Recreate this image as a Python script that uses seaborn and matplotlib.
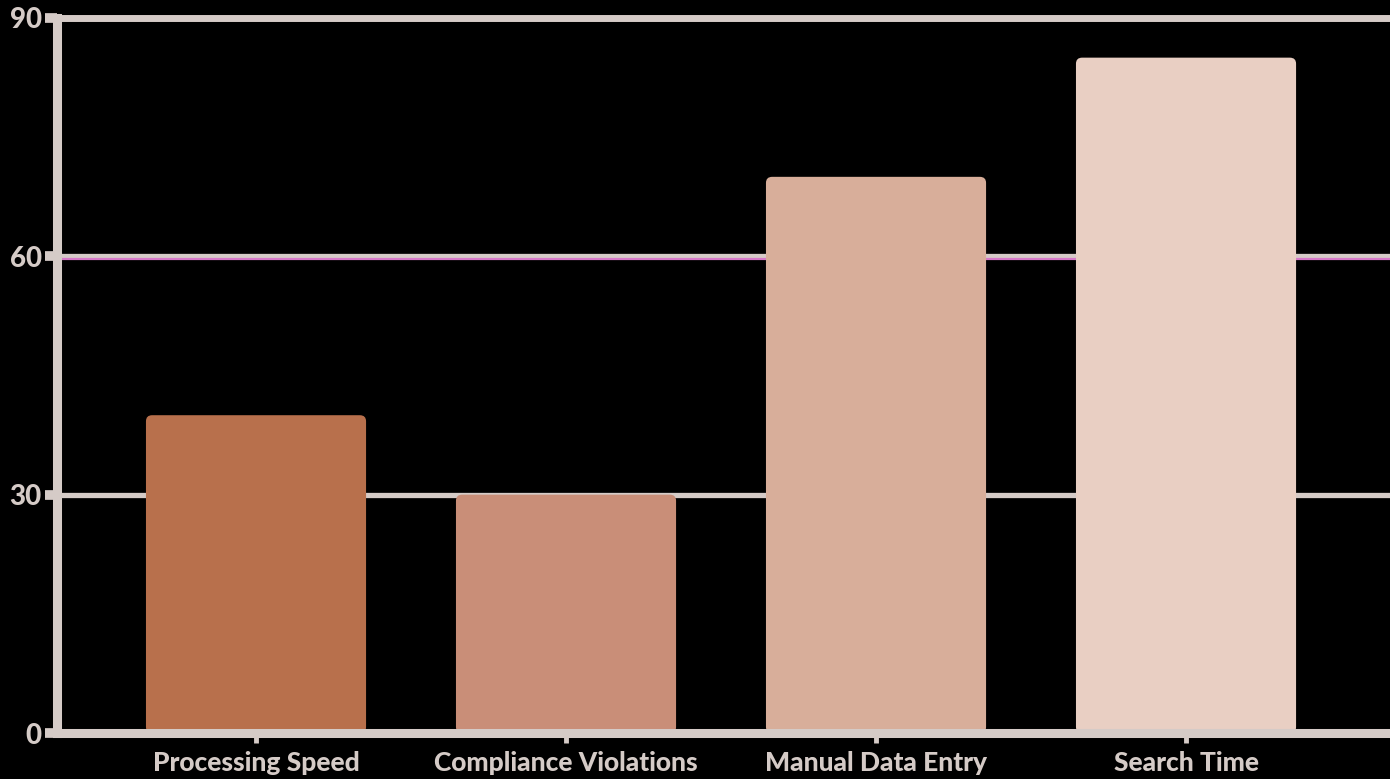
import matplotlib
matplotlib.use("Agg")
import matplotlib.pyplot as plt
import matplotlib.transforms as mtransforms
from matplotlib.patches import FancyBboxPatch
import seaborn as sns
import pandas as pd

categories = ["Processing Speed", "Compliance Violations", "Manual Data Entry", "Search Time"]
values = [40, 30, 70, 85]
colors = ["#b8704c", "#c98e78", "#d8ae9a", "#e9cfc3"]
y_ticks = [0, 30, 60, 90]
ref_value = 60

LINE = "#d5cbc7"
PINK = "#d678c8"

sns.set_style("white")
plt.rcParams["font.family"] = ["Lato", "DejaVu Sans"]

fig = plt.figure(figsize=(13.9, 7.79), dpi=100)
fig.patch.set_facecolor("black")
ax = fig.add_axes([0.041, 0.059, 0.959, 0.918])
ax.set_facecolor("black")

df = pd.DataFrame({"category": categories, "value": values})
sns.barplot(data=df, x="category", y="value", hue="category", palette=colors,
            legend=False, width=0.71, saturation=1, ax=ax, zorder=3)

# swap the plain bars for rounded ones, same geometry
for p in list(ax.patches):
    rb = FancyBboxPatch((p.get_x(), p.get_y()), p.get_width(), p.get_height(),
                        boxstyle="round,pad=0,rounding_size=0.02",
                        mutation_aspect=38, facecolor=p.get_facecolor(),
                        edgecolor="none", zorder=3)
    ax.add_patch(rb)
    p.remove()

ax.set_ylim(0, 90)
ax.set_xlim(-0.642, 3.658)
ax.set_yticks(y_ticks)
ax.yaxis.grid(True, color=LINE, linewidth=3.8, zorder=1)
ax.set_axisbelow(True)

# pink reference line sitting just under the 60 gridline
shift = mtransforms.offset_copy(ax.transData, fig=fig, x=0, y=-3, units="dots")
ax.plot([-1, 5], [ref_value, ref_value], color=PINK, linewidth=1.6,
        transform=shift, zorder=2)

for side in ["top", "right"]:
    ax.spines[side].set_visible(False)
for side in ["left", "bottom"]:
    ax.spines[side].set_color(LINE)
    ax.spines[side].set_linewidth(6.5)
    ax.spines[side].set_zorder(4)
ax.axhline(90, color=LINE, linewidth=5, zorder=1, clip_on=False)

ax.tick_params(axis="y", length=9, width=7, color=LINE, labelcolor=LINE,
               labelsize=20, pad=2, left=True)
ax.tick_params(axis="x", length=7, width=3.5, color=LINE, labelcolor=LINE,
               labelsize=19, pad=6, bottom=True)
for lab in ax.get_xticklabels() + ax.get_yticklabels():
    lab.set_fontweight("black")

ax.set_xlabel("")
ax.set_ylabel("")

fig.savefig("out.png", dpi=100, facecolor="black")
